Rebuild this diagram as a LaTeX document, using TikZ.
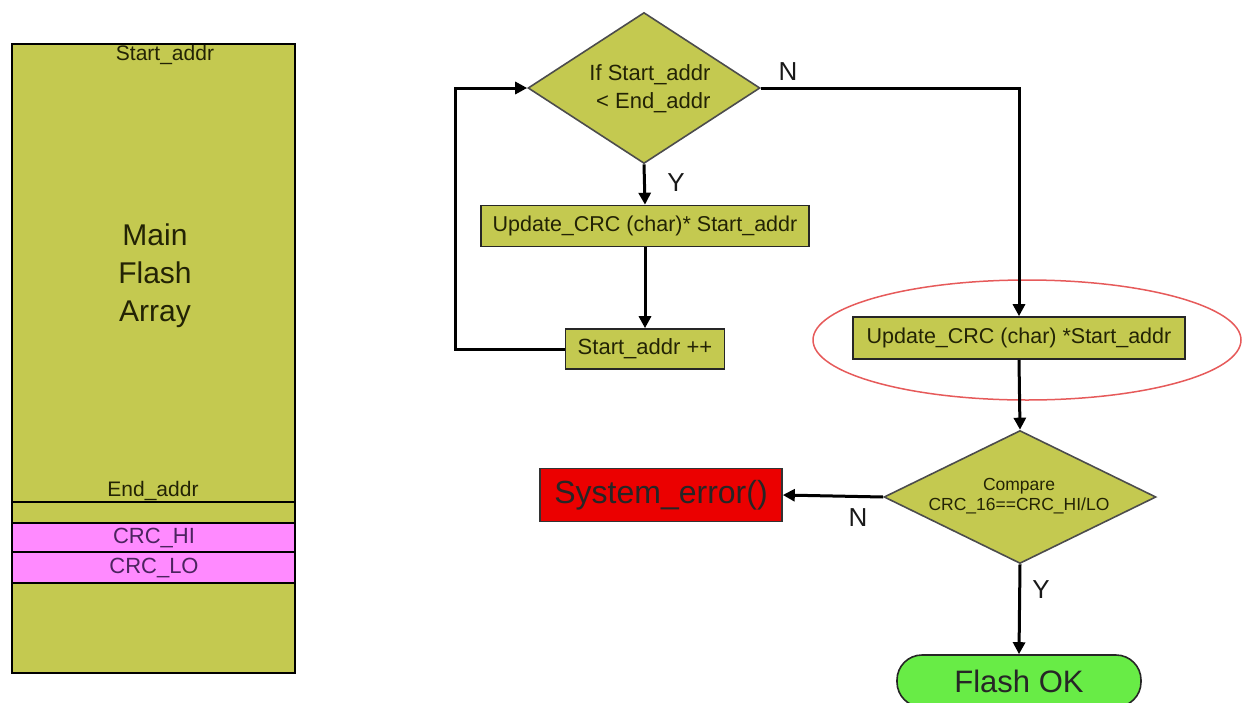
\documentclass[tikz,border=0pt]{standalone}
\usepackage{fontspec}
\setmainfont{Liberation Sans}
\usetikzlibrary{shapes.geometric,arrows.meta}
\definecolor{olivefill}{RGB}{196,201,80}
\definecolor{pinkfill}{RGB}{255,138,255}
\definecolor{errred}{RGB}{235,0,0}
\definecolor{okgreen}{RGB}{104,236,70}
\definecolor{darktxt}{RGB}{35,35,5}
\definecolor{crctxt}{RGB}{75,35,95}
\definecolor{ellred}{RGB}{230,90,90}
\begin{document}
\begin{tikzpicture}[x=1pt,y=-1pt,
  fs/.style={font=\fontsize{#1}{#1}\selectfont},
  procbox/.style={draw=black!85,line width=1.6pt,fill=olivefill,text=darktxt,inner sep=0pt},
  decision/.style={diamond,draw=black!70,line width=1.6pt,fill=olivefill,text=darktxt,inner sep=0pt},
  conn/.style={line width=3pt,-{Triangle[length=12pt,width=12pt]}},
  yn/.style={fs=26,text=black!90}
]
\useasboundingbox (0,0) rectangle (1243,702);
% memory map
\draw[line width=1.6pt,fill=olivefill] (12,44) rectangle (295,673);
\draw[line width=1.6pt,fill=pinkfill] (12,523) rectangle (295,552);
\draw[line width=1.6pt,fill=pinkfill] (12,552) rectangle (295,583);
\draw[line width=1.6pt] (12,502) -- (295,502);
\node[fs=21,text=darktxt] (sa) at (165,55) {Start\_addr};
\node[fs=30,text=darktxt,align=center] (mfa) at (155,276) {Main\\[8pt]Flash\\[8pt]Array};
\node[fs=21,text=darktxt] (ea) at (153,491) {End\_addr};
\node[fs=22,text=crctxt] (chi) at (154,538) {CRC\_HI};
\node[fs=22,text=crctxt] (clo) at (154,568) {CRC\_LO};
% flowchart
\node[decision,aspect=1.54,minimum width=232pt,minimum height=151pt] (d1) at (644,88) {};
\node[fs=22,text=darktxt,align=right] (d1t) at (650,89) {If Start\_addr\\[6pt]{<} End\_addr};
\node[procbox,minimum width=328pt,minimum height=41pt,fs=21.5] (b1) at (645,226) {Update\_CRC (char)* Start\_addr};
\node[procbox,minimum width=159pt,minimum height=40pt,fs=22] (b2) at (645,349) {Start\_addr ++};
\node[procbox,minimum width=332pt,minimum height=42pt,fs=21.5] (b3) at (1019,338) {Update\_CRC (char) *Start\_addr};
\node[ellipse,draw=ellred,line width=1.5pt,minimum width=428pt,minimum height=120pt] (ell) at (1027,340) {};
\node[decision,aspect=2.05,minimum width=272pt,minimum height=133pt] (d2) at (1020,497) {};
\node[fs=17.5,text=darktxt,align=center] (d2t) at (1019,496) {Compare\\[3pt]CRC\_16==CRC\_HI/LO};
\node[draw=black!80,line width=1.6pt,fill=errred,text=black!85,minimum width=242pt,minimum height=53pt,inner sep=0pt,fs=32] (err) at (661,495) {System\_error()};
\node[draw=black!85,line width=1.6pt,fill=okgreen,text=black!85,rounded corners=25pt,minimum width=244pt,minimum height=52pt,inner sep=0pt,fs=31] (ok) at (1019,681) {Flash OK};
\coordinate (loopc) at (455,349);
% connectors
\draw[conn] (d1.south) -- (b1.north);
\draw[conn] (b1.south) -- (b2.north);
\draw[conn] (b2.west) -- (loopc) |- (d1.west);
\draw[conn] (d1.east) -| (b3.north);
\draw[conn] (b3.south) -- (d2.north);
\draw[conn] (d2.west) -- (err.east);
\draw[conn] (d2.south) -- (ok.north);
% labels
\node[yn] (ly1) at (676,183) {Y};
\node[yn] (ln1) at (788,72) {N};
\node[yn] (ln2) at (858,518) {N};
\node[yn] (ly2) at (1041,590) {Y};
\end{tikzpicture}
\end{document}
